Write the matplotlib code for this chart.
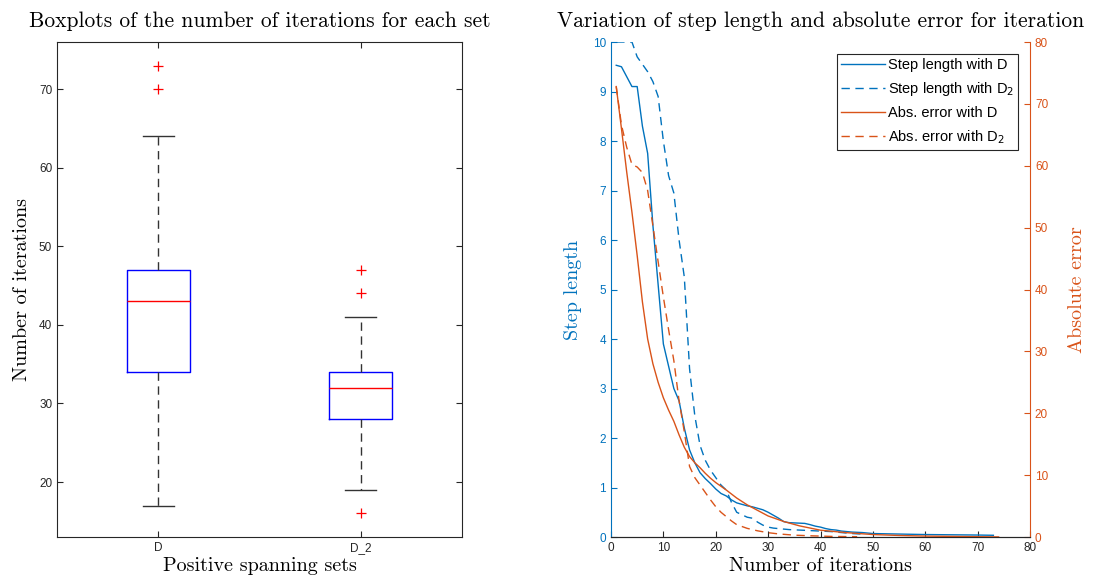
import matplotlib
matplotlib.use("Agg")
import matplotlib.pyplot as plt
import numpy as np

plt.rcParams['font.family'] = ['Liberation Sans', 'DejaVu Sans']
plt.rcParams['axes.formatter.use_mathtext'] = False

BLUE = '#0072BD'
ORANGE = '#D95319'
TICKC = '#262626'
SERIF = 'cmr10'

# boxplot summaries (number of iterations)
set_names = ['D', 'D_2']
q1 = [34, 28]
med = [43, 32]
q3 = [47, 34]
whis_lo = [17, 19]
whis_hi = [64, 41]
outliers = [[70, 73], [16, 44, 47]]

# mean step length / abs error per iteration
it_step_D = [1, 2, 3, 4, 5, 6, 7, 8, 9, 10, 11, 12, 13, 14, 15, 16, 17, 18, 19, 20,
             21, 22, 23, 24, 25, 26, 27, 28, 29, 30, 31, 32, 33, 34, 35, 36, 37, 38,
             39, 40, 41, 42, 43, 44, 45, 46, 48, 50, 55, 60, 65, 70, 73]
step_D = [9.53, 9.5, 9.3, 9.1, 9.1, 8.3, 7.75, 6.3, 5.1, 3.9, 3.45, 3.0, 2.75, 2.2,
          1.76, 1.5, 1.3, 1.18, 1.08, 0.97, 0.88, 0.83, 0.75, 0.69, 0.66, 0.63, 0.61,
          0.58, 0.55, 0.5, 0.44, 0.38, 0.31, 0.29, 0.285, 0.28, 0.275, 0.25, 0.22,
          0.2, 0.17, 0.15, 0.14, 0.12, 0.11, 0.1, 0.09, 0.07, 0.06, 0.05, 0.045,
          0.04, 0.035]

it_step_D2 = [1, 2, 3, 4, 5, 6, 7, 8, 9, 10, 11, 12, 13, 14, 15, 16, 17, 18, 19, 20,
              21, 22, 23, 24, 25, 26, 27, 28, 29, 30, 31, 32, 34, 36, 38, 40, 42, 44,
              46, 48]
step_D2 = [10.0, 10.0, 10.0, 10.0, 9.7, 9.55, 9.4, 9.2, 8.9, 8.0, 7.3, 6.95, 6.0,
           5.25, 3.4, 2.45, 1.85, 1.55, 1.35, 1.2, 1.05, 0.95, 0.7, 0.5, 0.45, 0.4,
           0.38, 0.3, 0.24, 0.2, 0.18, 0.17, 0.15, 0.14, 0.13, 0.12, 0.11, 0.09,
           0.07, 0.06]

it_err_D = [1, 2, 3, 4, 5, 6, 7, 8, 9, 10, 11, 12, 13, 14, 15, 16, 17, 18, 19, 20,
            22, 24, 26, 28, 30, 33, 36, 40, 45, 50, 55, 60, 65, 70, 74]
err_D = [72.8, 66.0, 59.0, 52.5, 45.5, 38.0, 32.0, 28.0, 25.0, 22.5, 20.5, 18.7,
         16.5, 14.5, 13.0, 12.0, 11.2, 10.3, 9.5, 8.8, 7.6, 6.3, 5.2, 4.3, 3.4, 2.5,
         1.8, 1.1, 0.7, 0.4, 0.25, 0.15, 0.1, 0.05, 0.02]

it_err_D2 = [1, 2, 3, 4, 5, 6, 7, 8, 9, 10, 11, 12, 13, 14, 15, 16, 17, 18, 19, 20,
             21, 22, 23, 24, 26, 28, 30, 32, 35, 38, 42, 47]
err_D2 = [72.8, 66.6, 63.0, 60.2, 59.8, 58.9, 56.0, 50.3, 44.5, 38.8, 33.5, 28.5,
          22.0, 17.0, 11.4, 9.6, 8.4, 7.2, 6.0, 4.9, 4.0, 3.3, 2.6, 2.0, 1.4, 1.0,
          0.7, 0.5, 0.3, 0.2, 0.1, 0.05]

fig = plt.figure(figsize=(10.93, 5.81), dpi=100)

# ---- left: boxplots
ax = fig.add_axes([0.0522, 0.0757, 0.3705, 0.852])
stats = []
for i in range(len(set_names)):
    stats.append(dict(med=med[i], q1=q1[i], q3=q3[i], whislo=whis_lo[i],
                      whishi=whis_hi[i], fliers=outliers[i], label=set_names[i]))
ax.bxp(stats, positions=[1, 2], widths=0.31, capwidths=0.155,
       boxprops=dict(color='blue', linewidth=1),
       medianprops=dict(color='red', linewidth=1),
       whiskerprops=dict(color='#333333', linestyle=(0, (6, 4)), linewidth=1),
       capprops=dict(color='#333333', linewidth=1),
       flierprops=dict(marker='+', markeredgecolor='red', markersize=6.5,
                       markeredgewidth=0.9, linestyle='none'))
ax.set_xlim(0.5, 2.5)
ax.set_ylim(13, 76)
ax.set_yticks([20, 30, 40, 50, 60, 70])
ax.tick_params(direction='in', top=True, right=True, labelsize=8.5,
               colors=TICKC, length=4)
for s in ax.spines.values():
    s.set_color(TICKC)
    s.set_linewidth(0.8)
ax.set_title('Boxplots of the number of iterations for each set',
             fontfamily=SERIF, fontsize=15.5, pad=11)
ax.set_xlabel('Positive spanning sets', fontfamily=SERIF, fontsize=14.5, labelpad=2)
ax.set_ylabel('Number of iterations', fontfamily=SERIF, fontsize=14.5, labelpad=6)

# ---- right: step length and absolute error
ax2 = fig.add_axes([0.559, 0.0757, 0.3834, 0.852])
ax3 = ax2.twinx()
l1, = ax2.plot(it_step_D, step_D, color=BLUE, lw=1, label='Step length with D')
l2, = ax2.plot(it_step_D2, step_D2, color=BLUE, lw=1, ls=(0, (6, 4)),
               label='Step length with D$_2$')
l3, = ax3.plot(it_err_D, err_D, color=ORANGE, lw=1, label='Abs. error with D')
l4, = ax3.plot(it_err_D2, err_D2, color=ORANGE, lw=1, ls=(0, (6, 4)),
               label='Abs. error with D$_2$')
ax2.set_xlim(0, 80)
ax2.set_ylim(0, 10)
ax3.set_ylim(0, 80)
ax2.set_xticks(np.arange(0, 81, 10))
ax2.set_yticks(np.arange(0, 11, 1))
ax3.set_yticks(np.arange(0, 81, 10))

for a in (ax2, ax3):
    a.spines['top'].set_visible(False)
    a.spines['bottom'].set_color(TICKC)
ax2.spines['right'].set_visible(False)
ax3.spines['left'].set_visible(False)
ax2.spines['left'].set_color(BLUE)
ax3.spines['right'].set_color(ORANGE)
ax2.tick_params(axis='x', direction='in', labelsize=8.5, colors=TICKC, length=4)
ax2.tick_params(axis='y', direction='in', labelsize=8.5, colors=BLUE, length=4)
ax3.tick_params(axis='y', direction='in', labelsize=8.5, colors=ORANGE, length=4)

ax2.set_title('Variation of step length and absolute error for iteration',
              fontfamily=SERIF, fontsize=15.5, pad=11)
ax2.set_xlabel('Number of iterations', fontfamily=SERIF, fontsize=14.5, labelpad=2)
ax2.set_ylabel('Step length', fontfamily=SERIF, fontsize=14.5, color=BLUE, labelpad=8)
ax3.set_ylabel('Absolute error', fontfamily=SERIF, fontsize=14.5, color=ORANGE,
               labelpad=14)

leg = ax3.legend(handles=[l1, l2, l3, l4], loc='upper right', fontsize=10.5,
                 handlelength=3, handletextpad=0.2, borderaxespad=0.8,
                 borderpad=0.3, fancybox=False, framealpha=1, edgecolor=TICKC,
                 labelspacing=0.55)
leg.get_frame().set_linewidth(0.8)

fig.savefig('out.png', dpi=100)
